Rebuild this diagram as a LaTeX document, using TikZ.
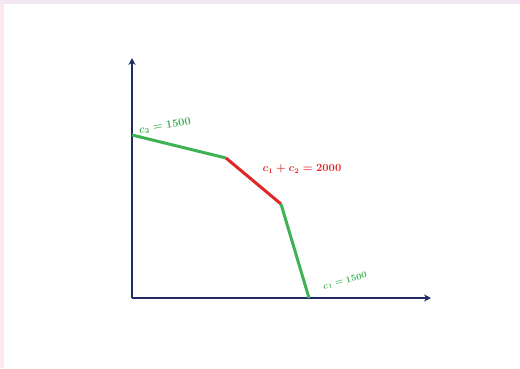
\documentclass[tikz,border=0pt]{standalone}
\usepackage{amsmath, amssymb}
\usepackage{xcolor}
\usetikzlibrary{arrows.meta}

\definecolor{azuleixo}{RGB}{32,44,98}
\definecolor{verde}{RGB}{62,178,84}
\definecolor{vermelho}{RGB}{222,40,40}
\definecolor{bordasup}{RGB}{242,230,244}
\definecolor{bordaesq}{RGB}{252,232,238}

\tikzset{
    eixo/.style={azuleixo, line width=1.8pt, -{Stealth[length=7pt,width=7pt]}},
    reta/.style={line width=3pt},
    rotulo/.style={font=\fontsize{10.5}{12}\selectfont\boldmath\bfseries, inner sep=1pt}
}

\begin{document}
\begin{tikzpicture}[x=1pt, y=-1pt]
    \useasboundingbox (0,0) rectangle (520,368);
    % Moldura
    \fill[bordasup] (0,0) rectangle (520,4);
    \fill[bordaesq] (0,4) rectangle (4,368);

    % Vertices
    \coordinate (O) at (132,298);
    \coordinate (ytopo) at (132,58);
    \coordinate (xfim) at (431,298);
    \coordinate (A) at (132,135);
    \coordinate (B) at (226,158);
    \coordinate (C) at (281,204);
    \coordinate (D) at (309,298);

    % Eixos
    \draw[eixo] (O) -- (ytopo);
    \draw[eixo] (O) -- (xfim);

    % Fronteira
    \draw[reta, verde] (A) -- (B);
    \draw[reta, vermelho] (B) -- (C);
    \draw[reta, verde] (C) -- (D);

    % Rotulos
    \node[rotulo, verde, rotate=10] (lc2) at (165,126) {$c_2 = 1500$};
    \node[rotulo, vermelho] (lsoma) at (302,169) {$c_1 + c_2 = 2000$};
    \node[rotulo, verde, rotate=15, font=\fontsize{9}{10}\selectfont\boldmath\bfseries] (lc1) at (345,281) {$c_1 = 1500$};
\end{tikzpicture}
\end{document}
